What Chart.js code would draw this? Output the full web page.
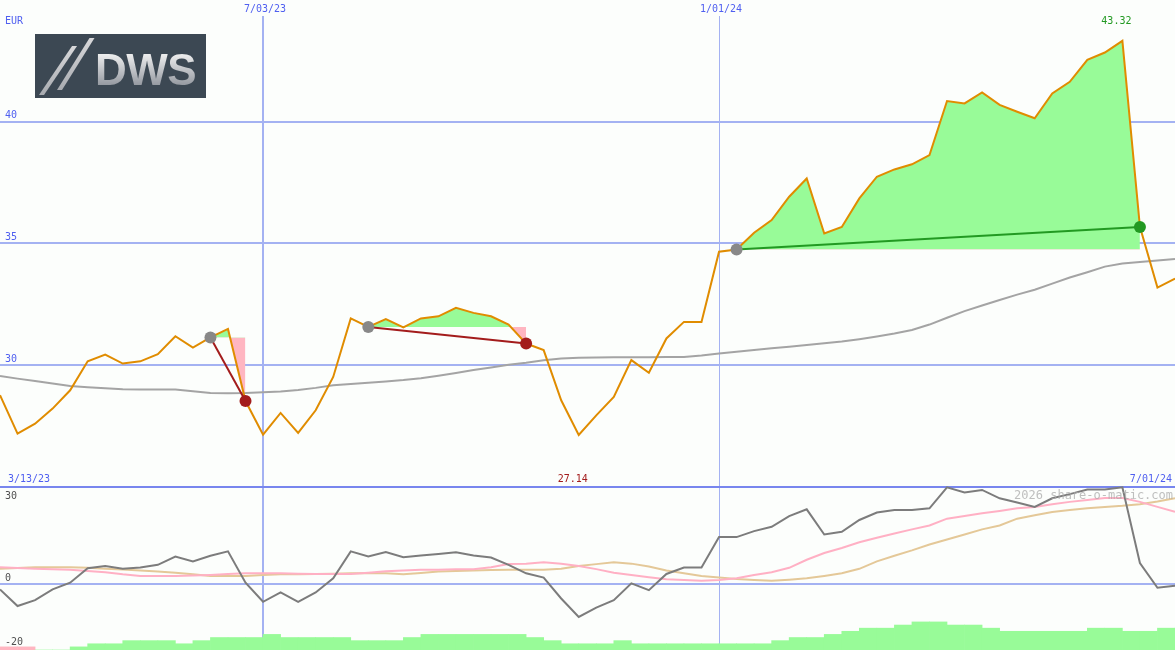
<!DOCTYPE html>
<html lang="en">
<head>
<meta charset="UTF-8">
<title>DWS - share-o-matic</title>
<script src="https://cdn.jsdelivr.net/npm/chart.js@4.4.1/dist/chart.umd.min.js"></script>
<style>
    body { margin: 0; background: #fcfefc; }
    #wrap { position: relative; width: 1175px; height: 650px; overflow: hidden; background: #fcfefc; }
    #priceChart { position: absolute; left: 0; top: 0; }
    #panelChart { position: absolute; left: 0; top: 485px; }
    /* logo top left */
    .logo { position: absolute; left: 35px; top: 34px; width: 171px; height: 64px; background: #3c4853; overflow: hidden; }
    .slash { position: absolute; width: 5px; background: linear-gradient(#d8d8da, #a8abb0); transform-origin: bottom left; }
    .s1 { left: 4px; top: 12px; height: 49px; transform: skewX(-34deg); }
    .s2 { left: 22px; top: 4px; height: 52px; transform: skewX(-32deg); }
    .dws { position: absolute; left: 60px; top: 14px; font: bold 44px "Liberation Sans", Arial, sans-serif; line-height: 44px;
           letter-spacing: -0.5px;
           background: linear-gradient(#f2f2f2 10%, #8e939b 90%); -webkit-background-clip: text; background-clip: text; color: transparent; }
</style>
</head>
<body>
<div id="wrap">
    <canvas id="priceChart" width="1175" height="487"></canvas>
    <canvas id="panelChart" width="1175" height="165"></canvas>
    <div class="logo"><span class="slash s1"></span><span class="slash s2"></span><span class="dws">DWS</span></div>
</div>

<script>
// weekly points, index 0 .. 67
const dateTickIdx = [15, 41];
const dateTickLabels = ['7/03/23', '1/01/24'];
const rangeLabels = ['3/13/23', '7/01/24'];
const priceTicks = [30, 35, 40];
const panelTicks = [30, 0, -20];
const watermark = '2026 share-o-matic.com';

const priceVals = [28.77, 27.19, 27.6, 28.22, 28.97, 30.16, 30.44, 30.07, 30.16, 30.45,
    31.19, 30.72, 31.14, 31.49, 28.53, 27.15, 28.04, 27.22, 28.15, 29.52,
    31.92, 31.57, 31.89, 31.55, 31.92, 32.01, 32.36, 32.15, 32.01, 31.67,
    30.89, 30.62, 28.56, 27.14, 27.94, 28.70, 30.21, 29.69, 31.10, 31.78,
    31.78, 34.66, 34.75, 35.44, 35.96, 36.92, 37.67, 35.41, 35.68, 36.85,
    37.74, 38.04, 38.25, 38.63, 40.85, 40.75, 41.2, 40.69, 40.41, 40.14,
    41.16, 41.64, 42.54, 42.84, 43.32, 35.68, 33.19, 33.56];

const maVals = [29.56, 29.45, 29.35, 29.25, 29.15, 29.10, 29.05, 29.01, 29.0, 29.0,
    29.0, 28.93, 28.86, 28.85, 28.86, 28.89, 28.92, 28.98, 29.07, 29.18,
    29.23, 29.28, 29.33, 29.39, 29.47, 29.57, 29.68, 29.8, 29.91, 30.02,
    30.1, 30.2, 30.28, 30.31, 30.32, 30.33, 30.33, 30.33, 30.34, 30.34,
    30.4, 30.48, 30.55, 30.63, 30.7, 30.76, 30.83, 30.9, 30.97, 31.07,
    31.18, 31.3, 31.45, 31.67, 31.95, 32.22, 32.45, 32.68, 32.9, 33.1,
    33.35, 33.6, 33.82, 34.05, 34.18, 34.24, 34.3, 34.36];

// lower panel
const momVals = [-1.67, -6.8, -5.0, -1.67, 0.42, 4.9, 5.6, 4.7, 5.1, 5.94,
    8.5, 6.98, 8.75, 10.1, 0.42, -5.5, -2.6, -5.5, -2.6, 1.77,
    10.1, 8.5, 9.9, 8.3, 8.85, 9.27, 9.8, 8.85, 8.2, 5.94,
    3.3, 1.98, -4.48, -10.2, -7.3, -5.0, 0.2, -1.9, 3.1, 5.1,
    5.1, 14.5, 14.5, 16.35, 17.7, 21.0, 23.1, 15.3, 16.15, 19.8,
    22.1, 22.9, 22.9, 23.4, 29.9, 28.3, 29.1, 26.5, 25.2, 23.85,
    26.5, 27.8, 29.2, 29.2, 29.9, 6.5, -1.15, -0.5];

const pinkVals = [5.2, 4.95, 4.7, 4.55, 4.4, 4.0, 3.65, 3.0, 2.5, 2.5,
    2.5, 2.6, 2.8, 3.1, 3.3, 3.3, 3.3, 3.2, 3.1, 3.1,
    3.1, 3.5, 3.95, 4.2, 4.4, 4.4, 4.6, 4.6, 5.2, 6.15,
    6.3, 6.7, 6.3, 5.6, 4.6, 3.5, 2.8, 2.1, 1.45, 1.25,
    1.0, 1.25, 1.77, 2.8, 3.65, 5.0, 7.5, 9.6, 11.15, 12.9,
    14.3, 15.6, 16.9, 18.1, 20.2, 21.0, 21.9, 22.6, 23.4, 23.85,
    24.7, 25.4, 26.0, 26.6, 26.6, 25.4, 23.85, 22.3];

const tanVals = [4.7, 4.95, 5.2, 5.2, 5.2, 5.0, 4.7, 4.45, 4.2, 3.85,
    3.5, 3.0, 2.5, 2.5, 2.5, 2.75, 3.0, 3.05, 3.1, 3.2,
    3.3, 3.3, 3.3, 3.0, 3.4, 3.85, 4.0, 4.2, 4.3, 4.4,
    4.4, 4.4, 4.7, 5.6, 6.15, 6.7, 6.3, 5.4, 4.2, 3.3,
    2.5, 2.0, 1.56, 1.25, 1.0, 1.35, 1.77, 2.5, 3.3, 4.7,
    7.0, 8.75, 10.4, 12.2, 13.75, 15.3, 16.9, 18.1, 20.2, 21.25,
    22.3, 22.9, 23.4, 23.85, 24.2, 24.7, 25.5, 26.5];

const histVals = [-1, -1, 0, 0, 1, 2, 2, 3, 3, 3,
    2, 3, 4, 4, 4, 5, 4, 4, 4, 4,
    3, 3, 3, 4, 5, 5, 5, 5, 5, 5,
    4, 3, 2, 2, 2, 3, 2, 2, 2, 2,
    2, 2, 2, 2, 3, 4, 4, 5, 6, 7,
    7, 8, 9, 9, 8, 8, 7, 6, 6, 6,
    6, 6, 7, 7, 6, 6, 7, 7];

// trades: entry / exit week
const tradeEntryIdx = [12, 21, 42];
const tradeExitIdx = [14, 30, 65];

const blueText = '#4f5ff0';
const gridBlue = '#a4b2f2';
const winGreen = '#229922';
const lossRed = '#a31c1c';

Chart.defaults.elements.point.radius = 0;
Chart.defaults.elements.line.tension = 0;
Chart.defaults.animation = false;

const pts = arr => arr.map((v, i) => ({ x: i, y: v }));

function xScale(position) {
    return {
        type: 'linear', min: 0, max: priceVals.length - 1, position: position, offset: false,
        ticks: { display: false },
        border: { display: false },
        grid: {
            color: gridBlue, drawTicks: false, offset: false,
            lineWidth: ctx => ctx.tick && ctx.tick.value === dateTickIdx[0] ? 2 : 1
        },
        afterBuildTicks: s => { s.ticks = dateTickIdx.map(v => ({ value: v })); },
        afterFit: s => { s.height = position === 'top' ? 16 : 0; }
    };
}

// ---- upper chart : price ----
const priceSets = [];
tradeEntryIdx.forEach((s, k) => {
    const e = tradeExitIdx[k];
    const level = priceVals[s];
    const win = priceVals[e] > level;
    // area between price and entry level
    priceSets.push({
        data: priceVals.slice(s, e + 1).map((v, j) => ({ x: s + j, y: v })),
        borderWidth: 0,
        fill: { target: { value: level }, above: '#98fb98', below: '#ffb6c1' },
        order: 10
    });
    priceSets.push({
        data: [{ x: s, y: level }, { x: e, y: priceVals[e] }],
        borderColor: win ? winGreen : lossRed, borderWidth: 2,
        order: 4
    });
    priceSets.push({
        data: [{ x: s, y: level }, { x: e, y: priceVals[e] }],
        showLine: false, pointRadius: 6, pointBorderWidth: 0,
        pointBackgroundColor: ['#888888', win ? winGreen : lossRed],
        order: 2
    });
});
priceSets.push({ data: pts(maVals), borderColor: '#a4a4a4', borderWidth: 2, order: 8 });
priceSets.push({ data: pts(priceVals), borderColor: '#e08c00', borderWidth: 2, order: 6 });

const priceText = {
    id: 'priceText',
    afterDraw(chart) {
        const ctx = chart.ctx, x = chart.scales.x, y = chart.scales.y;
        ctx.save();
        ctx.font = '10px "DejaVu Sans Mono", monospace';
        ctx.textBaseline = 'middle';
        ctx.fillStyle = blueText;
        ctx.textAlign = 'left';
        ctx.fillText('EUR', 5, 21);
        priceTicks.forEach(v => ctx.fillText(String(v), 5, y.getPixelForValue(v) - 6));
        ctx.fillText(rangeLabels[0], 8, 479);
        ctx.textAlign = 'right';
        ctx.fillText(rangeLabels[1], 1172, 479);
        ctx.textAlign = 'center';
        dateTickIdx.forEach((v, k) => ctx.fillText(dateTickLabels[k], x.getPixelForValue(v) + 2, 9));
        // high / low
        const hi = Math.max(...priceVals), lo = Math.min(...priceVals);
        ctx.fillStyle = winGreen;
        ctx.fillText(hi.toFixed(2), x.getPixelForValue(priceVals.indexOf(hi)) - 6, 21);
        ctx.fillStyle = lossRed;
        ctx.fillText(lo.toFixed(2), x.getPixelForValue(priceVals.indexOf(lo)) - 6, 479);
        ctx.restore();
    }
};

new Chart(document.getElementById('priceChart'), {
    type: 'line',
    data: { datasets: priceSets },
    options: {
        responsive: false,
        layout: { padding: 0, autoPadding: false },
        plugins: { legend: { display: false }, tooltip: { enabled: false } },
        scales: {
            x: xScale('top'),
            y: {
                min: 25, max: 44.34,
                ticks: { display: false },
                border: { display: false },
                grid: { color: gridBlue, lineWidth: 2, drawTicks: false },
                afterBuildTicks: s => { s.ticks = priceTicks.map(v => ({ value: v })); },
                afterFit: s => { s.width = 0; }
            }
        }
    },
    plugins: [priceText]
});

// ---- lower panel ----
const panelText = {
    id: 'panelText',
    afterDraw(chart) {
        const ctx = chart.ctx, y = chart.scales.y;
        ctx.save();
        ctx.font = '10px "DejaVu Sans Mono", monospace';
        ctx.textBaseline = 'middle';
        ctx.fillStyle = '#505050';
        panelTicks.forEach(v => {
            const py = y.getPixelForValue(v);
            ctx.fillText(String(v), 5, v === panelTicks[0] ? py + 9 : py - 6);
        });
        ctx.font = '12px "DejaVu Sans Mono", monospace';
        ctx.fillStyle = 'rgba(170,170,170,0.75)';
        ctx.textAlign = 'right';
        ctx.fillText(watermark, 1173, 11);
        ctx.restore();
    }
};

new Chart(document.getElementById('panelChart'), {
    type: 'line',
    data: {
        datasets: [
            {
                type: 'bar', yAxisID: 'yb',
                data: histVals.map((v, i) => ({ x: i + 0.5, y: Math.abs(v) })),
                backgroundColor: histVals.map(v => v < 0 ? '#ffb6c1' : '#98fb98'),
                barPercentage: 1, categoryPercentage: 1, borderWidth: 0,
                order: 10
            },
            { data: pts(tanVals), borderColor: '#e4c898', borderWidth: 2, order: 8 },
            { data: pts(pinkVals), borderColor: '#ffb0c4', borderWidth: 2, order: 6 },
            { data: pts(momVals), borderColor: '#7c7c7c', borderWidth: 2, order: 4 }
        ]
    },
    options: {
        responsive: false,
        layout: { padding: 0, autoPadding: false },
        plugins: { legend: { display: false }, tooltip: { enabled: false } },
        scales: {
            x: xScale('bottom'),
            y: {
                min: -20.41, max: 30.62,
                ticks: { display: false },
                border: { display: false },
                grid: {
                    drawTicks: false, lineWidth: 2,
                    color: ctx => ctx.tick.value === 30 ? '#7886ee' : (ctx.tick.value === 0 ? gridBlue : 'rgba(0,0,0,0)')
                },
                afterBuildTicks: s => { s.ticks = panelTicks.map(v => ({ value: v })); },
                afterFit: s => { s.width = 0; }
            },
            yb: { display: false, min: 0, max: 52.9 }
        }
    },
    plugins: [panelText]
});
</script>
</body>
</html>
